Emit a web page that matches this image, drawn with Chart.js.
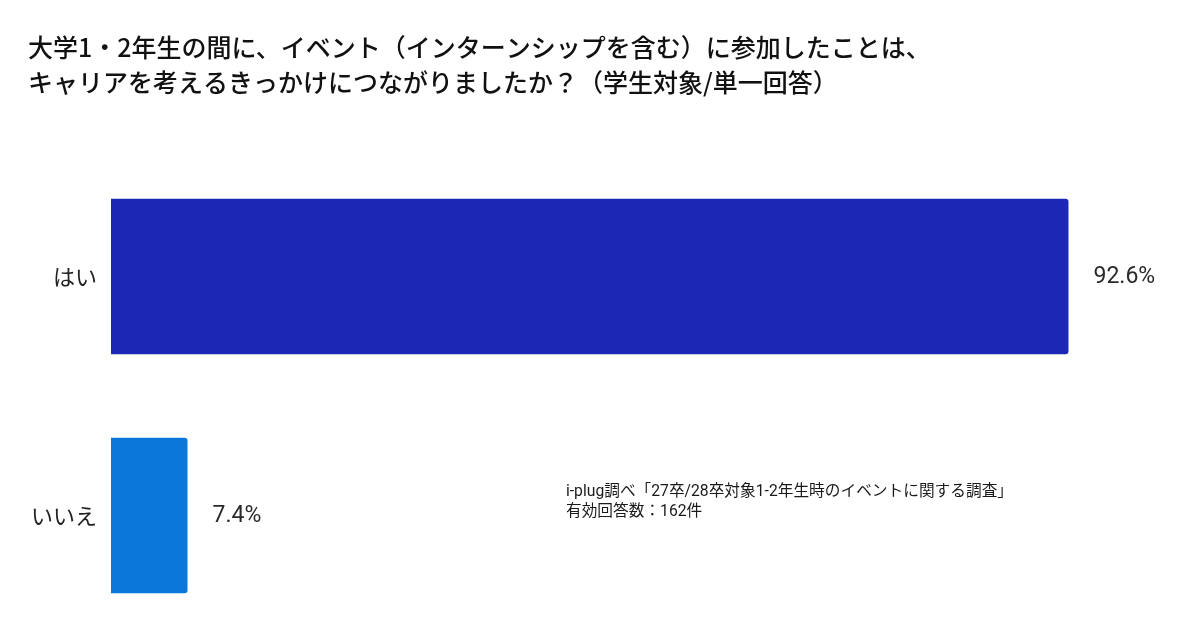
<!DOCTYPE html>
<html lang="ja">
<head>
<meta charset="utf-8">
<script src="https://cdn.jsdelivr.net/npm/chart.js@4/dist/chart.umd.min.js"></script>
<style>
  html, body { margin: 0; padding: 0; background: #ffffff; }
  #wrap { width: 1200px; height: 642px; position: relative; }
</style>
</head>
<body>
<div id="wrap"><canvas id="c"></canvas></div>
<script>
const categories = ['はい', 'いいえ'];
const values = [92.6, 7.4];
const valueLabels = ['92.6%', '7.4%'];
const barColors = ['#1C28B5', '#0A77DA'];
const titleLines = [
  '大学1・2年生の間に、イベント（インターンシップを含む）に参加したことは、',
  'キャリアを考えるきっかけにつながりましたか？（学生対象/単一回答）'
];
const sourceLines = [
  'i-plug調べ「27卒/28卒対象1-2年生時のイベントに関する調査」',
  '有効回答数：162件'
];

const JP = '"Noto Sans CJK JP", "Noto Sans", sans-serif';

const valueLabelPlugin = {
  id: 'valueLabels',
  afterDatasetsDraw(chart) {
    const ctx = chart.ctx;
    const meta = chart.getDatasetMeta(0);
    ctx.save();
    ctx.font = '23px Roboto, "Noto Sans", sans-serif';
    ctx.fillStyle = '#2a2a2a';
    ctx.textAlign = 'left';
    ctx.textBaseline = 'middle';
    meta.data.forEach((bar, i) => {
      ctx.fillText(valueLabels[i], bar.x + 25, bar.y + 1);
    });
    ctx.restore();
  }
};

const sourcePlugin = {
  id: 'sourceNote',
  afterDraw(chart) {
    const ctx = chart.ctx;
    const area = chart.chartArea;
    const y0 = chart.scales.y.getPixelForValue(1);
    ctx.save();
    ctx.font = '15.7px Roboto, ' + JP;
    ctx.fillStyle = '#1a1a1a';
    ctx.textAlign = 'left';
    ctx.textBaseline = 'middle';
    const x = area.left + (area.right - area.left) * 0.44;
    ctx.fillText(sourceLines[0], x, y0 - 23);
    ctx.fillText(sourceLines[1], x, y0 - 3);
    ctx.restore();
  }
};

new Chart(document.getElementById('c'), {
  type: 'bar',
  data: {
    labels: categories,
    datasets: [{
      data: values,
      backgroundColor: barColors,
      borderRadius: 3,
      borderSkipped: 'start',
      barPercentage: 0.65,
      categoryPercentage: 1.0
    }]
  },
  plugins: [valueLabelPlugin, sourcePlugin],
  options: {
    indexAxis: 'y',
    responsive: true,
    maintainAspectRatio: false,
    animation: false,
    layout: { padding: { left: 28, right: 55, top: 30, bottom: 7 } },
    plugins: {
      legend: { display: false },
      tooltip: { enabled: false },
      title: {
        display: true,
        text: titleLines,
        align: 'start',
        color: '#111111',
        font: { family: JP, size: 25, weight: 500, lineHeight: 1.4 },
        padding: { top: 0, bottom: 57 }
      }
    },
    scales: {
      x: { display: false, min: 0, max: 100 },
      y: {
        grid: { display: false, drawTicks: false },
        border: { display: false },
        ticks: { color: '#222222', font: { family: JP, size: 22 }, padding: 14 },
        afterFit(scale) {
          scale.width = 83;
          scale.paddingTop = 0;
          scale.paddingBottom = 0;
        }
      }
    }
  }
});
</script>
</body>
</html>
